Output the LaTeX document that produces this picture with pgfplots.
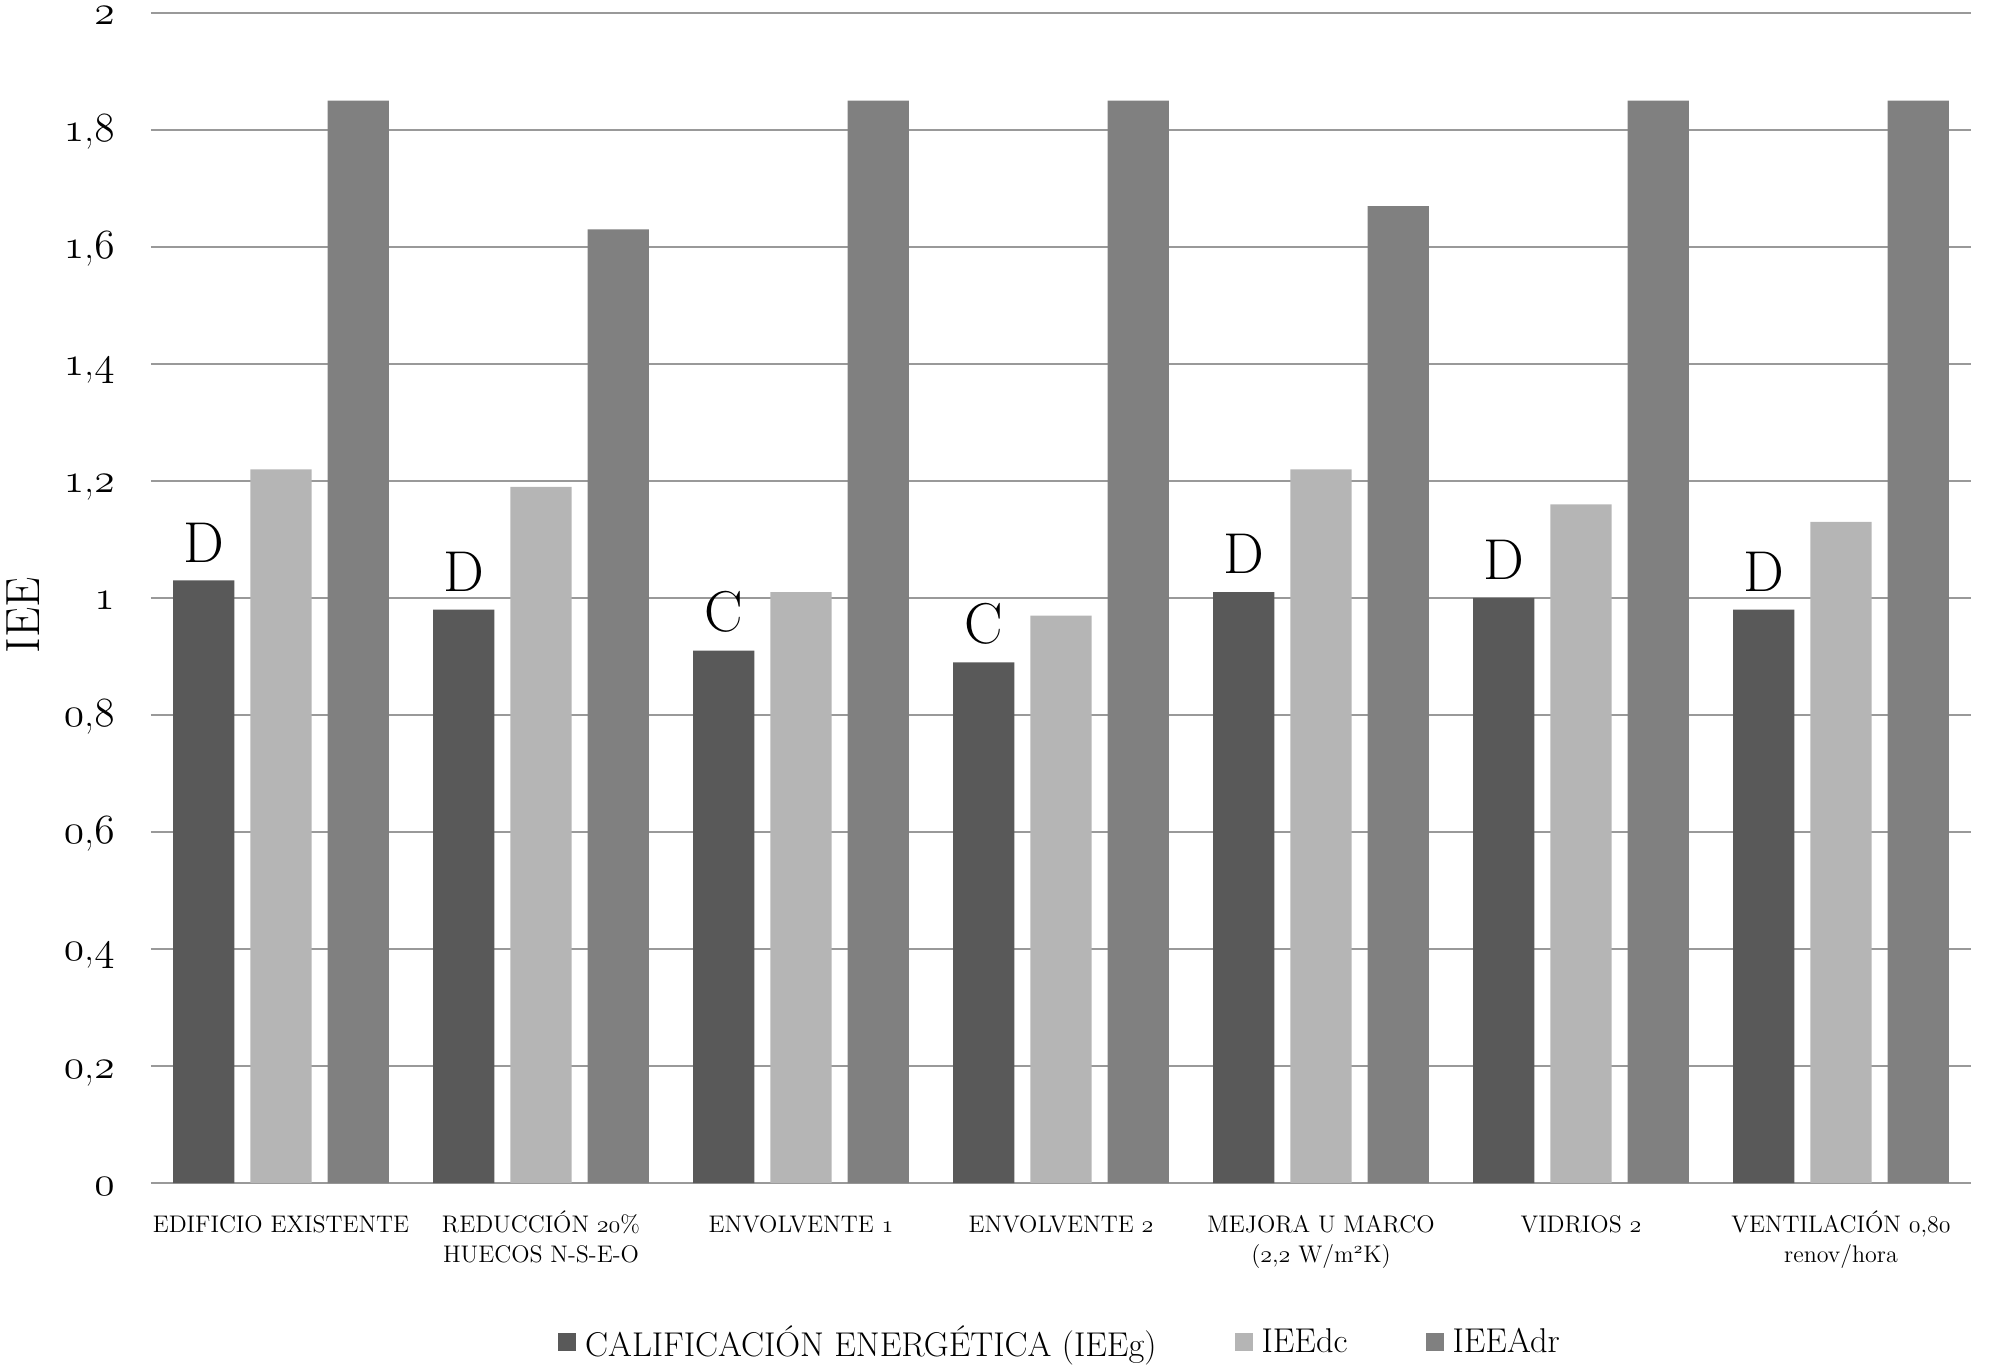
\documentclass[border=0pt]{standalone}
\usepackage{pgfplots}
\pgfplotsset{compat=1.18}
\newcommand{\os}[1]{{\usefont{OML}{cmm}{m}{it}#1}}
\newcommand{\st}{\rule{0pt}{12pt}}
\definecolor{cA}{HTML}{595959}
\definecolor{cB}{HTML}{B5B5B5}
\definecolor{cC}{HTML}{808080}
\definecolor{gridc}{HTML}{999999}
\begin{document}
\begin{tikzpicture}
\begin{axis}[
  name=ax,
  scale only axis, width=910pt, height=585pt,
  xmin=-0.5, xmax=6.5, ymin=0, ymax=2,
  ybar=8pt, bar width=30.6pt,
  axis line style={draw=none},
  major tick length=0pt,
  ymajorgrids, grid style={gridc, line width=1.2pt},
  ytick={0,0.2,0.4,0.6,0.8,1,1.2,1.4,1.6,1.8,2},
  yticklabels={\os{0},{\os{0},\os{2}},{\os{0},\os{4}},{\os{0},\os{6}},{\os{0},\os{8}},\os{1},{\os{1},\os{2}},{\os{1},\os{4}},{\os{1},\os{6}},{\os{1},\os{8}},\os{2}},
  yticklabel style={font=\fontsize{20}{24}\selectfont, inner sep=0pt, anchor=base east, xshift=-18pt, yshift=-6pt},
  xtick={0,1,2,3,4,5,6},
  xticklabels={\st EDIFICIO EXISTENTE,{\st REDUCCIÓN \os{20}\%\\HUECOS N-S-E-O},\st ENVOLVENTE \os{1},\st ENVOLVENTE \os{2},{\st MEJORA U MARCO\\(\os{2},\os{2} W/m\textsuperscript{\os{2}}K)},\st VIDRIOS \os{2},{\st VENTILACIÓN \os{0},\os{80}\\renov/hora}},
  xticklabel style={font=\fontsize{12}{15}\selectfont, align=center, inner sep=0pt, anchor=north, yshift=-12.4pt},
  ylabel={IEE},
  every axis y label/.style={at={(axis description cs:0,0.485)}, rotate=90, anchor=center, yshift=64pt, font=\fontsize{24}{28}\selectfont},
  legend style={at={(0.5,-0.136)}, anchor=center, draw=none, legend columns=-1,
    font=\fontsize{17.2}{20}\selectfont,
    /tikz/every even column/.append style={column sep=37pt}},
]
\addplot[fill=cA, draw=none,
  legend image code/.code={\fill[cA] (0pt,-4.5pt) rectangle (9pt,4.5pt); \path (11.5pt,0pt);},
  nodes near coords, point meta=explicit symbolic,
  every node near coord/.append style={font=\fontsize{28.8}{32}\selectfont, inner sep=0pt, yshift=9pt, anchor=south, text=black}]
  coordinates {(0,1.03) [D] (1,0.98) [D] (2,0.91) [C] (3,0.89) [C] (4,1.01) [D] (5,1.00) [D] (6,0.98) [D]};
\addlegendentry{CALIFICACIÓN ENERGÉTICA (IEEg)}
\addplot[fill=cB, draw=none,
  legend image code/.code={\fill[cB] (0pt,-4.5pt) rectangle (9pt,4.5pt); \path (11.5pt,0pt);}]
  coordinates {(0,1.22) (1,1.19) (2,1.01) (3,0.97) (4,1.22) (5,1.16) (6,1.13)};
\addlegendentry{IEEdc}
\addplot[fill=cC, draw=none,
  legend image code/.code={\fill[cC] (0pt,-4.5pt) rectangle (9pt,4.5pt); \path (11.5pt,0pt);}]
  coordinates {(0,1.85) (1,1.63) (2,1.85) (3,1.85) (4,1.67) (5,1.85) (6,1.85)};
\addlegendentry{IEEAdr}
\end{axis}
\pgfresetboundingbox
\path[use as bounding box] ([shift={(-75.5pt,-92pt)}]ax.south west) rectangle ([shift={(15pt,6.5pt)}]ax.north east);
\end{tikzpicture}
\end{document}
